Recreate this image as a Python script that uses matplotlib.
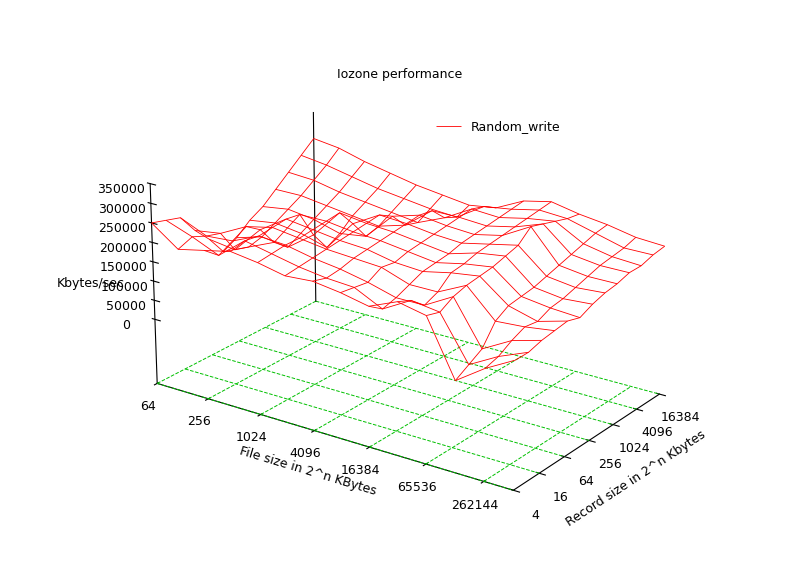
import numpy as np
import matplotlib
matplotlib.use("Agg")
from matplotlib import pyplot as plt

# file sizes 2^6 .. 2^19 KB, record sizes 2^2 .. 2^14 KB
file_exp = [6, 7, 8, 9, 10, 11, 12, 13, 14, 15, 16, 17, 18, 19]
rec_exp = [2, 3, 4, 5, 6, 7, 8, 9, 10, 11, 12, 13, 14]
file_labels = ["64", "256", "1024", "4096", "16384", "65536", "262144"]
rec_labels = ["4", "16", "64", "256", "1024", "4096", "16384"]

# Kbytes/sec, rows = record size, cols = file size
random_write = np.array([
    [250000, 200000, 215000, 230000, 220000, 205000, 210000, 200000, 185000, 215000, 200000, 60000, 110000, 150000],
    [240000, 215000, 185000, 240000, 225000, 210000, 200000, 195000, 160000, 200000, 190000, 80000, 120000, 150000],
    [230000, 200000, 205000, 235000, 230000, 215000, 205000, 190000, 170000, 170000, 210000, 100000, 140000, 160000],
    [180000, 190000, 225000, 240000, 230000, 220000, 215000, 210000, 185000, 185000, 220000, 150000, 155000, 165000],
    [140000, 130000, 200000, 245000, 235000, 225000, 220000, 205000, 200000, 215000, 225000, 170000, 150000, 170000],
    [90000, 120000, 150000, 240000, 240000, 230000, 225000, 215000, 205000, 220000, 230000, 175000, 165000, 160000],
    [110000, 130000, 120000, 170000, 245000, 235000, 230000, 220000, 210000, 230000, 240000, 180000, 170000, 175000],
    [140000, 150000, 140000, 120000, 200000, 240000, 235000, 225000, 220000, 235000, 250000, 190000, 180000, 185000],
    [160000, 170000, 160000, 140000, 150000, 220000, 240000, 230000, 225000, 240000, 280000, 200000, 190000, 190000],
    [190000, 190000, 180000, 170000, 160000, 180000, 235000, 235000, 230000, 245000, 270000, 210000, 200000, 200000],
    [220000, 215000, 200000, 190000, 180000, 170000, 200000, 240000, 235000, 250000, 260000, 220000, 205000, 200000],
    [250000, 240000, 225000, 210000, 200000, 190000, 185000, 230000, 240000, 255000, 250000, 230000, 210000, 210000],
    [280000, 270000, 250000, 235000, 220000, 210000, 200000, 210000, 245000, 260000, 245000, 235000, 220000, 215000],
])

fig = plt.figure(figsize=(8, 5.66), dpi=100)
ax = fig.add_axes([0.0, 0.0, 1.0, 0.95], projection="3d")
X, Y = np.meshgrid(file_exp, rec_exp)
ax.plot_wireframe(X, Y, random_write, color="#ff0000", linewidth=0.6, label="Random_write")

zfloor = -170000
for fx in range(6, 20, 2):
    ax.plot([fx, fx], [2, 14], [zfloor, zfloor], color="#00c000", ls="--", lw=0.7)
for ry in range(2, 15, 2):
    ax.plot([6, 19], [ry, ry], [zfloor, zfloor], color="#00c000", ls="--", lw=0.7)
# back vertical edge
ax.plot([6, 6], [14, 14], [zfloor, 350000], color="black", lw=0.8)

ax.set_xlim(6, 19)
ax.set_ylim(2, 14)
ax.set_zlim(zfloor, 350000)
ax.set_xticks(range(6, 20, 2))
ax.set_xticklabels(file_labels, fontsize=9)
ax.set_yticks(range(2, 15, 2))
ax.set_yticklabels(rec_labels, fontsize=9)
ax.set_zticks(range(0, 350001, 50000))
ax.set_zticklabels([str(v) for v in range(0, 350001, 50000)], fontsize=9)
ax.set_xlabel("File size in 2^n KBytes", fontsize=9)
ax.set_ylabel("Record size in 2^n Kbytes", fontsize=9)
ax.zaxis.set_rotate_label(False)
ax.set_zlabel("Kbytes/sec", fontsize=9, rotation=0)
ax.grid(False)
for a in (ax.xaxis, ax.yaxis, ax.zaxis):
    a.pane.fill = False
    a.pane.set_edgecolor("none")
ax.zaxis._axinfo["juggled"] = (1, 2, 0)
ax.view_init(elev=22, azim=-55)
ax.set_box_aspect((1.6, 1.0, 0.8))
fig.suptitle("Iozone performance", fontsize=9, y=0.88)
ax.legend(loc="upper right", bbox_to_anchor=(0.82, 0.85), frameon=False, fontsize=9)
fig.savefig("out.png")
